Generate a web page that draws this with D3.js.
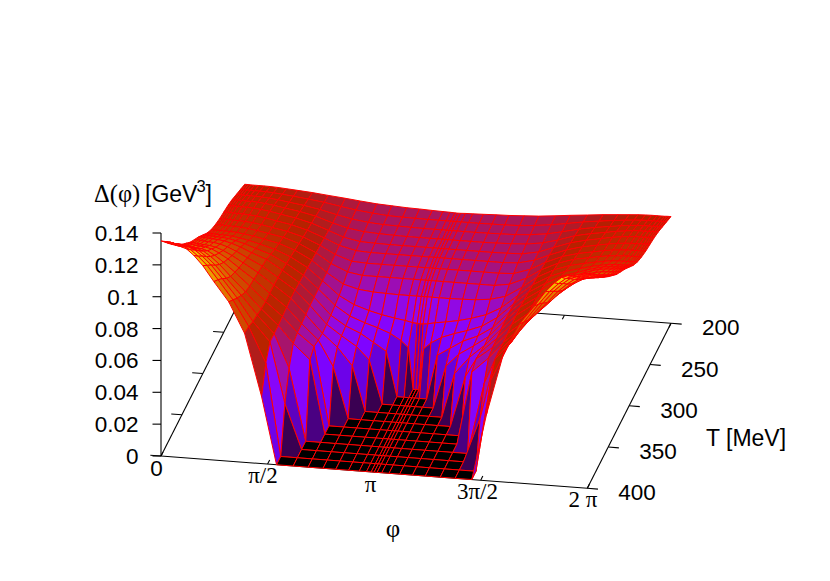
<!DOCTYPE html>
<html><head><meta charset="utf-8">
<script src="https://cdn.jsdelivr.net/npm/d3@7"></script>
<style>html,body{margin:0;padding:0;background:#fff}svg{display:block}text{fill:#000}</style>
</head><body><svg id="c" width="830" height="581"></svg>
<script>
// phi grid (radians, 0..pi; the other half mirrors it)
const phiHalf=[0,.025,.057,.094,.145,.207,.283,.377,.484,.616,.779,.999,1.232,1.483,1.703,1.948,2.168,2.388,2.576,2.765,2.922,3.029,3.098,3.1416];
const temps=[200,210,220,230,240,250,260,270,280,290,300,310,320,330,340,350,360,370,380,390,400];
// Delta(phi) in 10^-3 GeV^3, one list per temperature
const d200=[67,67,67,66.9,66.9,66.9,66.9,66.8,66.6,66.2,65.7,65,64,63,62,61,60.5,60,59.8,59.5,59.3,59.2,59.05,59];
const d210=[69,69,69,68.9,68.9,68.8,68.8,68.7,68.4,67.9,67.2,66.1,64.8,63,61.5,60.3,59.5,59.2,59.1,59,59,59,59,59];
const d220=[71,71,70.9,70.9,70.8,70.8,70.7,70.6,70.2,69.6,68.6,67.3,65.5,63,61,59.7,59,58.8,58.6,58.5,58.5,58.5,58.5,58.5];
const d230=[73,73,72.9,72.9,72.8,72.7,72.7,72.5,72,71.3,70.1,68.6,66.5,63,60.5,59,58.5,58.2,58,58,58,58,58,58];
const d240=[74.5,74.5,74.4,74.4,74.3,74.2,74.2,73.9,73.5,72.7,71.4,69.7,67.3,63.5,60,58,57.7,57.5,57.5,57.5,57.5,57.5,57.5,57.5];
const d250=[75.5,75.5,75.4,75.4,75.3,75.2,75.2,74.9,74.5,73.7,72.4,70.7,68,64,60,57.5,57,57,57,57,57,57,57,57];
const d260=[76.5,76.5,76.4,76.4,76.3,76.2,76.2,75.9,75.5,74.7,73.4,71.7,69,64.5,59.5,56,55.5,55.5,55.5,55.5,55.5,55.5,55.5,55.5];
const d270=[78,78,77.9,77.9,77.8,77.7,77.7,77.4,77,76.2,74.9,73.2,70,65,59,54.5,53,53,53,53,53,53,53,53];
const d280=[80,80,79.9,79.8,79.8,79.7,79.6,79.4,78.8,77.9,76.5,74.5,71,65.5,58.5,52,49.5,48.5,48.2,48,48,48,48,48];
const d290=[83,83,82.9,82.8,82.7,82.6,82.5,82.2,81.4,80.3,78.5,76,72,66,58.5,50,45,42,40,38.5,37.5,36.5,36.2,36];
const d300=[87,86.9,86.9,86.7,86.6,86.4,86.3,85.9,84.9,83.4,81,78,73,66.5,58.5,49,43,39.5,37,34,30,26,0,0];
const d310=[91,90.9,90.8,90.7,90.5,90.3,90.1,89.6,88.4,86.5,83.5,80,74,67,58.5,48,42,38,33,28,0,0,0,0];
const d320=[94.5,94.4,94.3,94.1,93.9,93.7,93.5,92.8,91.4,89,85.5,81,74.5,67.5,58.5,47.5,41,35,27,0,0,0,0,0];
const d330=[98,97.9,97.8,97.5,97.3,97,96.8,96,94.3,91.5,87.5,82,75,67.5,58,47,39,28,0,0,0,0,0,0];
const d340=[102.5,102.4,102.2,101.9,101.6,101.3,101,100.1,97.9,94.6,89.5,83,75,67,57.5,48,32,0,0,0,0,0,0,0];
const d350=[107,106.9,106.6,106.3,105.9,105.6,105.2,104.1,101.6,97.6,92,84,75,66.5,57,49,0,0,0,0,0,0,0,0];
const d360=[112.5,112.3,112.1,111.7,111.2,110.8,110.4,109.1,106.1,101.5,94.5,85.5,75.5,66,55.5,46,0,0,0,0,0,0,0,0];
const d370=[118,117.8,117.5,117.1,116.6,116.2,115.7,114.4,111.2,106.2,98.5,88.5,77,66,45,0,0,0,0,0,0,0,0,0];
const d380=[124,123.8,123.5,123,122.5,122,121.6,120.1,116.7,111.5,103.5,92,78,66,28,0,0,0,0,0,0,0,0,0];
const d390=[129.5,129.3,129,128.5,128,127.4,126.9,125.4,121.8,116.5,108,96,80,58,0,0,0,0,0,0,0,0,0,0];
const d400=[135,134.8,134.5,134,133.5,133,132.5,131.2,127.5,121.5,112,100,81,42,0,0,0,0,0,0,0,0,0,0];
const rowsHalf=[d200,d210,d220,d230,d240,d250,d260,d270,d280,d290,d300,d310,d320,d330,d340,d350,d360,d370,d380,d390,d400];
const zTicks=[0,.02,.04,.06,.08,.1,.12,.14];
const zTickLabels=["0","0.02","0.04","0.06","0.08","0.1","0.12","0.14"];
const tTicks=[200,250,300,350,400];
const phiTicks=[0,Math.PI/2,Math.PI,3*Math.PI/2,2*Math.PI];
const phiLabels=["0","π/2","π","3π/2","2 π"];

const phis=phiHalf.concat(phiHalf.slice(0,-1).reverse().map(p=>2*Math.PI-p));
const rows=rowsHalf.map(r=>r.concat(r.slice(0,-1).reverse()));

const svg=d3.select("#c");
// oblique view: base plane spanned by two screen vectors, height straight up
const O=[161,456], U=[426.3,32.3], V=[83.7,-165];
const uS=d3.scaleLinear().domain([0,2*Math.PI]).range([0,1]);
const vS=d3.scaleLinear().domain([400,200]).range([0,1]);
const zS=d3.scaleLinear().domain([0,.14]).range([0,223]);
const color=d3.scaleLinear().domain([0,.135]).range([0,1]).clamp(true);
function P(phi,T,z){const u=uS(phi),v=vS(T);return [O[0]+U[0]*u+V[0]*v,O[1]+U[1]*u+V[1]*v-zS(z||0)];}
function pal(z){const x=color(z);return d3.rgb(255*Math.sqrt(x),255*x*x*x,255*Math.max(0,Math.sin(2*Math.PI*x))).formatHex();}
function seg(g,a,b,w){g.append("line").attr("x1",a[0]).attr("y1",a[1]).attr("x2",b[0]).attr("y2",b[1]).attr("stroke","#000").attr("stroke-width",w||1.1);}
const ax=svg.append("g");
const tickU=.025*2*Math.PI, tickV=.025*200;
// base frame
seg(ax,P(0,400),P(2*Math.PI,400));seg(ax,P(2*Math.PI,400),P(2*Math.PI,200));
seg(ax,P(2*Math.PI,200),P(0,200));seg(ax,P(0,200),P(0,400));
seg(ax,P(0,400),P(0,400,.14));
zTicks.forEach(z=>{const p=P(0,400,z);seg(ax,[p[0]-8.5,p[1]],p);});
tTicks.forEach(t=>{seg(ax,P(2*Math.PI,t),P(2*Math.PI+tickU,t));seg(ax,P(0,t),P(-tickU,t));});
phiTicks.forEach(f=>{seg(ax,P(f,400),P(f,400-tickV));seg(ax,P(f,200),P(f,200+tickV));});
// surface, back to front
const surf=svg.append("g");
const cells=[];
d3.range(temps.length-1).forEach(j=>d3.range(phis.length-1).forEach(i=>{
  const c=[[i,j],[i+1,j],[i+1,j+1],[i,j+1]];
  cells.push({pts:c.map(([a,b])=>P(phis[a],temps[b],rows[b][a]/1000)),m:d3.mean(c,([a,b])=>rows[b][a]/1000)});
}));
surf.selectAll("polygon").data(cells).join("polygon")
 .attr("points",d=>d.pts.map(p=>p.join(",")).join(" "))
 .attr("fill",d=>pal(d.m)).attr("stroke","#f00").attr("stroke-width",1).attr("stroke-linejoin","round");
// text
const sans="'Liberation Sans',Arial,sans-serif", serif="'Liberation Serif',serif";
function txt(x,y,s,fam,size,anchor){return svg.append("text").attr("x",x).attr("y",y).attr("font-family",fam).attr("font-size",size).attr("text-anchor",anchor||"start").text(s);}
zTicks.forEach((z,i)=>{const p=P(0,400,z);txt(138.5,p[1]+8,zTickLabels[i],sans,22.5,"end");});
tTicks.forEach(t=>{const p=P(2*Math.PI,t);txt(p[0]+31,p[1]+12,t,sans,22.5);});
txt(156.5,476,"0",sans,22.5,"middle");
txt(263,483,phiLabels[1],serif,23,"middle");
txt(370.5,491.5,phiLabels[2],serif,23,"middle");
txt(477.5,499,phiLabels[3],serif,23,"middle");
txt(583,507,phiLabels[4],serif,23,"middle");
txt(393,537,"φ",serif,25,"middle");
txt(706,446,"T [MeV]",sans,23);
txt(94,202,"Δ(φ)",serif,24.5);
txt(145,202,"[GeV",sans,23);
txt(196.5,192,"3",sans,16.5);
txt(205.5,202,"]",sans,23);
</script></body></html>
